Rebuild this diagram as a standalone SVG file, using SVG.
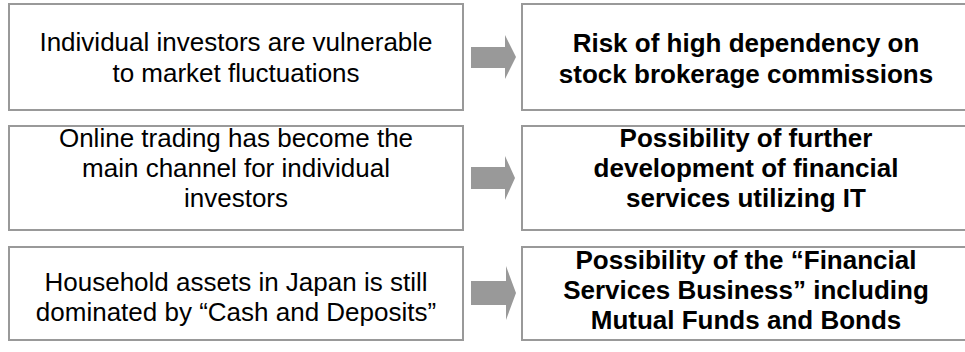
<svg xmlns="http://www.w3.org/2000/svg" width="965" height="352" viewBox="0 0 965 352">
<style>
.box{fill:#fff;stroke:#999;stroke-width:2}
.arr{fill:#999;stroke:none}
.t{font-family:"Liberation Sans",Arial,sans-serif;font-size:26px;fill:#000;text-anchor:middle}
.b{font-weight:bold}
</style>
<rect width="965" height="352" fill="#fff"/>
<g id="cause1"><rect class="box" x="9" y="4" width="454" height="106"/>
<text class="t" x="236" y="51">Individual investors are vulnerable</text>
<text class="t" x="236" y="82">to market fluctuations</text></g>
<g id="effect1"><rect class="box" x="522" y="4" width="450" height="106"/>
<text class="t b" x="746" y="52">Risk of high dependency on</text>
<text class="t b" x="746" y="83">stock brokerage commissions</text></g>
<g id="cause2"><rect class="box" x="9" y="126" width="454" height="104"/>
<text class="t" x="236" y="147">Online trading has become the</text>
<text class="t" x="236" y="177">main channel for individual</text>
<text class="t" x="236" y="207">investors</text></g>
<g id="effect2"><rect class="box" x="522" y="126" width="450" height="104"/>
<text class="t b" x="746" y="147">Possibility of further</text>
<text class="t b" x="746" y="177">development of financial</text>
<text class="t b" x="746" y="207">services utilizing IT</text></g>
<g id="cause3"><rect class="box" x="9" y="247" width="454" height="93"/>
<text class="t" x="236" y="291">Household assets in Japan is still</text>
<text class="t" x="236" y="321">dominated by “Cash and Deposits”</text></g>
<g id="effect3"><rect class="box" x="522" y="247" width="450" height="93"/>
<text class="t b" x="746" y="269">Possibility of the “Financial</text>
<text class="t b" x="746" y="299">Services Business” including</text>
<text class="t b" x="746" y="329">Mutual Funds and Bonds</text></g>
<g id="connectors">
<polygon class="arr" points="471,47 505,47 505,35 516,57 505,79 505,68 471,68"/>
<polygon class="arr" points="471,167 505,167 505,156 515,178 505,200 505,189 471,189"/>
<polygon class="arr" points="471,281 506,281 506,266 516,293 506,320 506,305 471,305"/>
</g>
</svg>
